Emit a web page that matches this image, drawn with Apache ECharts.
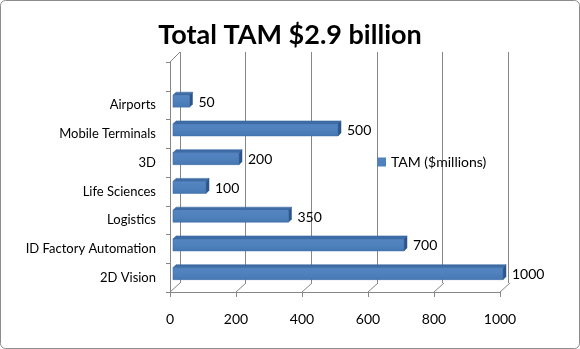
<!DOCTYPE html>
<html><head><meta charset="utf-8">
<script src="https://cdn.jsdelivr.net/npm/echarts@6/dist/echarts.min.js"></script>
<style>html,body{margin:0;padding:0;background:#fff}#c{width:580px;height:349px}</style>
</head><body><div id="c"></div>
<script>
const titleText = 'Total TAM $2.9 billion';
const seriesName = 'TAM ($millions)';
const categories = ['Airports','Mobile Terminals','3D','Life Sciences','Logistics','ID Factory Automation','2D Vision'];
const values = [50, 500, 200, 100, 350, 700, 1000];
const xTicks = [0, 200, 400, 600, 800, 1000];

const catBU = categories.slice().reverse();
const valBU = values.slice().reverse();

const FONT = 'Lato';
const chart = echarts.init(document.getElementById('c'), null, {renderer:'canvas'});

function render3DBar(params, api){
  const idx = api.value(0);
  const v = api.value(1);
  const p0 = api.coord([0, idx]);
  const p1 = api.coord([v, idx]);
  const dx = 3, dy = -4;
  const h = 12, dep = 3;
  const x0 = p0[0] + dx, x1 = p1[0] + dx;
  const yc = p0[1] + dy;
  const yt = yc - h/2, yb = yc + h/2;
  return {
    type: 'group',
    children: [
      {type:'polygon', shape:{points:[[x0,yt],[x0+dep,yt-dep],[x1+dep,yt-dep],[x1,yt]]},
        style:{fill:'#3E6CA7', stroke:'#3A679F', lineWidth:0.5}},
      {type:'polygon', shape:{points:[[x1,yt],[x1+dep,yt-dep],[x1+dep,yb-dep],[x1,yb]]},
        style:{fill:'#2C568B', stroke:'#2C568B', lineWidth:0.5}},
      {type:'rect', shape:{x:x0, y:yt, width:x1-x0, height:h},
        style:{fill:new echarts.graphic.LinearGradient(0,0,0,1,[
          {offset:0,color:'#5585C2'},{offset:0.5,color:'#4F81BD'},{offset:1,color:'#4677B3'}]),
          stroke:'#3F6FAA', lineWidth:0.6}},
      {type:'text', style:{text:String(v), x:x1+dep+6, y:yc+1, textVerticalAlign:'middle',
        fontFamily:FONT, fontSize:14, fill:'#000'}}
    ]
  };
}

// floor / wall edge lines connecting the front axes with the back wall
function renderFloor(params, api){
  const cs = params.coordSys;
  const v = api.value(0);
  const p = api.coord([v, 0]);
  const yb = cs.y + cs.height;
  const children = [
    {type:'line', shape:{x1:p[0], y1:yb, x2:p[0]+10, y2:yb-9},
      style:{stroke:'#868686', lineWidth:1}}
  ];
  if (params.dataIndex === 0) {
    children.push({type:'line', shape:{x1:cs.x, y1:cs.y, x2:cs.x+10, y2:cs.y-10},
      style:{stroke:'#868686', lineWidth:1}});
  }
  return {type:'group', children};
}

chart.setOption({
  animation:false,
  backgroundColor:'#fff',
  title:{text:titleText, left:'center', top:17,
    textStyle:{fontFamily:FONT, fontWeight:'bold', fontSize:27, color:'#000'}},
  legend:{data:[seriesName], left:372, top:150, itemWidth:9, itemHeight:9, itemGap:6, icon:'rect',
    textStyle:{fontFamily:FONT, fontSize:14, color:'#000'}},
  grid:[
    {left:180, right:72, top:52, bottom:66},
    {left:170, right:80, top:62, bottom:57}
  ],
  xAxis:[
    {gridIndex:0, type:'value', min:0, max:1000, interval:200,
      axisLine:{show:false}, axisTick:{show:false}, axisLabel:{show:false},
      splitLine:{show:true, lineStyle:{color:'#868686', width:1}}},
    {gridIndex:1, type:'value', min:0, max:1000, interval:200,
      axisLine:{show:true, onZero:false, lineStyle:{color:'#868686'}},
      axisTick:{show:true, length:5, lineStyle:{color:'#868686'}},
      axisLabel:{show:true, margin:20, fontFamily:FONT, fontSize:14, color:'#000',
        formatter:(v)=> xTicks.indexOf(v) >= 0 ? String(v) : ''},
      splitLine:{show:false}}
  ],
  yAxis:[
    {gridIndex:0, type:'category', data:catBU, show:false},
    {gridIndex:1, type:'category', data:catBU, max:7,
      axisLine:{show:true, lineStyle:{color:'#868686'}},
      axisTick:{show:true, length:4, lineStyle:{color:'#868686'}},
      axisLabel:{margin:14, fontFamily:FONT, fontSize:13, color:'#000',
        formatter:(v)=> (v === undefined || v === null || /^\d+$/.test(String(v))) ? '' : v},
      splitLine:{show:false}}
  ],
  series:[
    {name:'floor', type:'custom', xAxisIndex:1, yAxisIndex:1, silent:true,
      renderItem:renderFloor, encode:{x:0}, data: xTicks.map(v=>[v])},
    {name:seriesName, type:'custom', xAxisIndex:1, yAxisIndex:1,
      itemStyle:{color:'#4F81BD'},
      renderItem:render3DBar,
      encode:{x:1, y:0},
      data: valBU.map((v,i)=>[i, v])}
  ],
  graphic:[
    {type:'rect', shape:{x:0.5, y:0.5, width:579, height:348, r:5},
      style:{fill:'none', stroke:'#8C8C8C', lineWidth:1}, z:100}
  ]
});
</script></body></html>
